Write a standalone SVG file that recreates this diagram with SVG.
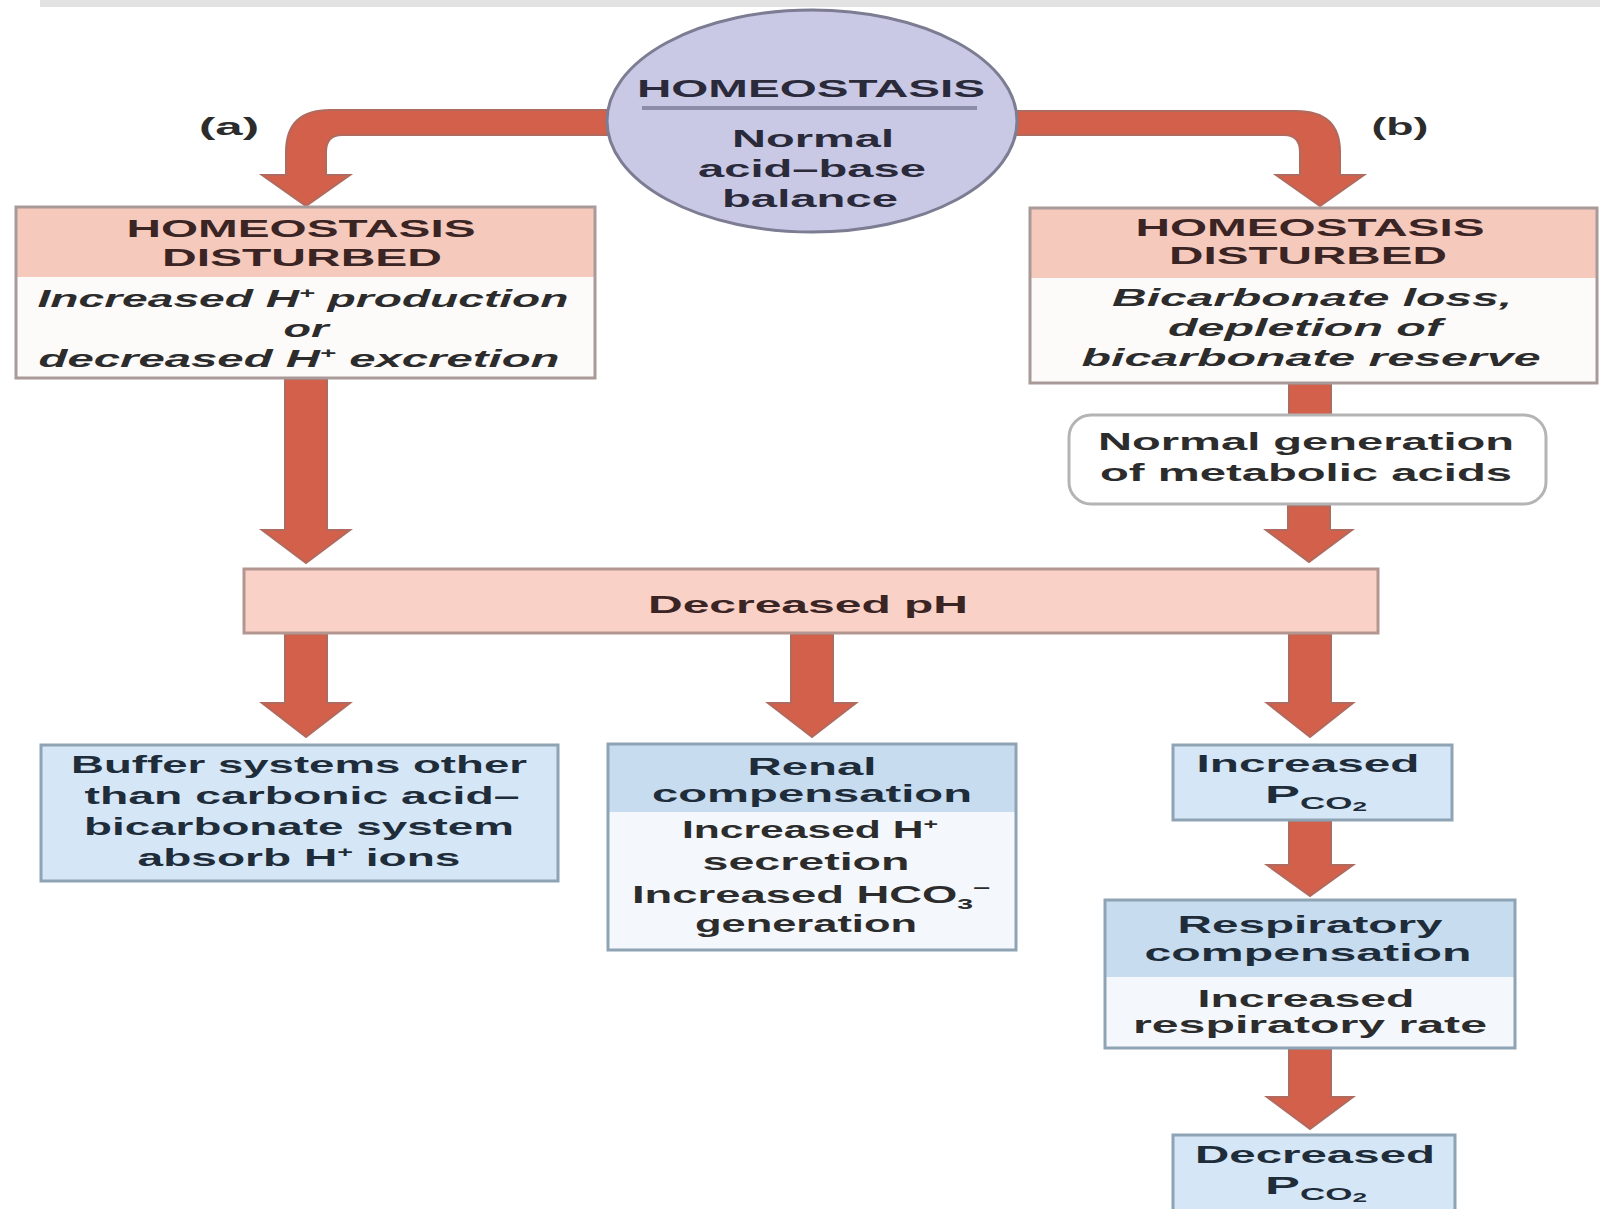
<svg xmlns="http://www.w3.org/2000/svg" width="1600" height="1209" viewBox="0 0 1600 1209">
<style>
text{font-family:"Liberation Sans",Arial,sans-serif;font-weight:bold;font-size:24px;text-anchor:middle}
.pk{fill:#3a2424}
.bl{fill:#1f2c3a}
.bd{fill:#2c2c2c}
.it{font-style:italic}
.arr{fill:#d2604b;stroke:#b06a5e;stroke-width:2;stroke-linejoin:miter}
.pinkhead{fill:#f6c9bd}
.boxline{fill:none;stroke:#a89a98;stroke-width:3}
.bluebox{fill:#d5e7f6;stroke:#8ea3b3;stroke-width:3}
.bluehead{fill:#c7dcef}
</style>
<rect x="40" y="0" width="1560" height="7" fill="#e2e2e2"/>
<g id="connectors">
<path class="arr" d="M612 110 L330 110 Q286 110 286 152 L286 175 L262 175 L306 206 L350 175 L326 175 L326 152 Q326 135 342 135 L612 135 Z"/>
<path class="arr" d="M1012 111 L1296 111 Q1340 111 1340 152 L1340 175 L1364 175 L1320 206 L1276 175 L1300 175 L1300 152 Q1300 135 1284 135 L1012 135 Z"/>
<path class="arr" d="M285 379 L327 379 L327 530 L350 530 L306 563 L262 530 L285 530 Z"/>
<path class="arr" d="M1289 384 L1331 384 L1331 416 L1289 416 Z"/>
<path class="arr" d="M1288 506 L1330 506 L1330 530 L1352 530 L1309 562 L1266 530 L1288 530 Z"/>
<path class="arr" d="M285 634 L327 634 L327 703 L350 703 L306 737 L262 703 L285 703 Z"/>
<path class="arr" d="M791 634 L833 634 L833 703 L856 703 L812 737 L768 703 L791 703 Z"/>
<path class="arr" d="M1289 634 L1331 634 L1331 703 L1353 703 L1310 737 L1267 703 L1289 703 Z"/>
<path class="arr" d="M1289 821 L1331 821 L1331 865 L1353 865 L1310 896 L1267 865 L1289 865 Z"/>
<path class="arr" d="M1289 1049 L1331 1049 L1331 1097 L1353 1097 L1310 1129 L1267 1097 L1289 1097 Z"/>
</g>
<g id="label-a"><text x="229" y="135" class="bd" textLength="60" lengthAdjust="spacingAndGlyphs">(a)</text></g>
<g id="label-b"><text x="1400" y="135" class="bd" textLength="57" lengthAdjust="spacingAndGlyphs">(b)</text></g>
<g id="homeostasis">
<ellipse cx="812" cy="121" rx="205" ry="111" fill="#c9c9e6" stroke="#7c7c92" stroke-width="3"/>
<text x="811" y="97" fill="#2a2a3a" font-size="26" textLength="348" lengthAdjust="spacingAndGlyphs">HOMEOSTASIS</text>
<rect x="642" y="106" width="335" height="4" fill="#8c8ca8"/>
<text x="813" y="147" fill="#2a2a3a" font-size="26" textLength="162" lengthAdjust="spacingAndGlyphs">Normal</text>
<text x="812" y="177" fill="#2a2a3a" font-size="26" textLength="228" lengthAdjust="spacingAndGlyphs">acid–base</text>
<text x="810" y="207" fill="#2a2a3a" font-size="26" textLength="176" lengthAdjust="spacingAndGlyphs">balance</text>
</g>
<g id="disturbed-a">
<rect x="16" y="207" width="579" height="171" fill="#fdfafa"/>
<rect x="16" y="207" width="579" height="70" class="pinkhead"/>
<rect x="16" y="207" width="579" height="171" class="boxline"/>
<text x="301" y="237" class="pk" textLength="349" lengthAdjust="spacingAndGlyphs">HOMEOSTASIS</text>
<text x="302" y="266" class="pk" textLength="280" lengthAdjust="spacingAndGlyphs">DISTURBED</text>
<text x="303" y="307" class="bd it" textLength="531" lengthAdjust="spacingAndGlyphs">Increased H<tspan font-size="14" dy="-9">+</tspan><tspan dy="9"> production</tspan></text>
<text x="306" y="337" class="bd it" textLength="45" lengthAdjust="spacingAndGlyphs">or</text>
<text x="299" y="367" class="bd it" textLength="521" lengthAdjust="spacingAndGlyphs">decreased H<tspan font-size="14" dy="-9">+</tspan><tspan dy="9"> excretion</tspan></text>
</g>
<g id="disturbed-b">
<rect x="1030" y="208" width="567" height="175" fill="#fdfafa"/>
<rect x="1030" y="208" width="567" height="70" class="pinkhead"/>
<rect x="1030" y="208" width="567" height="175" class="boxline"/>
<text x="1310" y="236" class="pk" textLength="349" lengthAdjust="spacingAndGlyphs">HOMEOSTASIS</text>
<text x="1308" y="264" class="pk" textLength="278" lengthAdjust="spacingAndGlyphs">DISTURBED</text>
<text x="1312" y="306" class="bd it" textLength="400" lengthAdjust="spacingAndGlyphs">Bicarbonate loss,</text>
<text x="1305" y="336" class="bd it" textLength="274" lengthAdjust="spacingAndGlyphs">depletion of</text>
<text x="1311" y="366" class="bd it" textLength="459" lengthAdjust="spacingAndGlyphs">bicarbonate reserve</text>
</g>
<g id="normal-generation">
<rect x="1069" y="415" width="477" height="89" rx="22" ry="22" fill="#ffffff" stroke="#b4b4b4" stroke-width="3"/>
<text x="1306" y="450" class="bd" textLength="416" lengthAdjust="spacingAndGlyphs">Normal generation</text>
<text x="1306" y="481" class="bd" textLength="412" lengthAdjust="spacingAndGlyphs">of metabolic acids</text>
</g>
<g id="decreased-ph">
<rect x="244" y="569" width="1134" height="64" fill="#f9d1c6" stroke="#b39690" stroke-width="3"/>
<text x="808" y="613" class="pk" textLength="320" lengthAdjust="spacingAndGlyphs">Decreased pH</text>
</g>
<g id="buffer">
<rect x="41" y="745" width="517" height="136" class="bluebox"/>
<text x="299" y="773" class="bl" textLength="456" lengthAdjust="spacingAndGlyphs">Buffer systems other</text>
<text x="302" y="804" class="bl" textLength="435" lengthAdjust="spacingAndGlyphs">than carbonic acid–</text>
<text x="299" y="835" class="bl" textLength="430" lengthAdjust="spacingAndGlyphs">bicarbonate system</text>
<text x="299" y="866" class="bl" textLength="323" lengthAdjust="spacingAndGlyphs">absorb H<tspan font-size="14" dy="-9">+</tspan><tspan dy="9"> ions</tspan></text>
</g>
<g id="renal">
<rect x="608" y="744" width="408" height="206" fill="#f4f8fc"/>
<rect x="608" y="744" width="408" height="68" class="bluehead"/>
<rect x="608" y="744" width="408" height="206" fill="none" stroke="#8ea3b3" stroke-width="3"/>
<text x="812" y="775" class="bl" textLength="129" lengthAdjust="spacingAndGlyphs">Renal</text>
<text x="812" y="802" class="bl" textLength="320" lengthAdjust="spacingAndGlyphs">compensation</text>
<text x="810" y="838" class="bd" textLength="256" lengthAdjust="spacingAndGlyphs">Increased H<tspan font-size="14" dy="-9">+</tspan></text>
<text x="806" y="870" class="bd" textLength="207" lengthAdjust="spacingAndGlyphs">secretion</text>
<text x="811" y="903" class="bd" textLength="358" lengthAdjust="spacingAndGlyphs">Increased HCO<tspan font-size="15" dy="6">3</tspan><tspan font-size="16" dy="-16">–</tspan></text>
<text x="806" y="932" class="bd" textLength="222" lengthAdjust="spacingAndGlyphs">generation</text>
</g>
<g id="increased-pco2">
<rect x="1173" y="745" width="279" height="75" class="bluebox"/>
<text x="1308" y="772" class="bl" textLength="223" lengthAdjust="spacingAndGlyphs">Increased</text>
<text x="1265" y="803" class="bl" style="text-anchor:start" textLength="102" lengthAdjust="spacingAndGlyphs">P<tspan font-size="16" dy="6">CO</tspan><tspan font-size="12" dy="2">2</tspan></text>
</g>
<g id="respiratory">
<rect x="1105" y="900" width="410" height="148" fill="#f4f8fc"/>
<rect x="1105" y="900" width="410" height="77" class="bluehead"/>
<rect x="1105" y="900" width="410" height="148" fill="none" stroke="#8ea3b3" stroke-width="3"/>
<text x="1310" y="933" class="bl" textLength="265" lengthAdjust="spacingAndGlyphs">Respiratory</text>
<text x="1308" y="961" class="bl" textLength="327" lengthAdjust="spacingAndGlyphs">compensation</text>
<text x="1306" y="1007" class="bd" textLength="217" lengthAdjust="spacingAndGlyphs">Increased</text>
<text x="1310" y="1033" class="bd" textLength="354" lengthAdjust="spacingAndGlyphs">respiratory rate</text>
</g>
<g id="decreased-pco2">
<rect x="1173" y="1135" width="282" height="80" class="bluebox"/>
<text x="1315" y="1163" class="bl" textLength="240" lengthAdjust="spacingAndGlyphs">Decreased</text>
<text x="1265" y="1194" class="bl" style="text-anchor:start" textLength="102" lengthAdjust="spacingAndGlyphs">P<tspan font-size="16" dy="6">CO</tspan><tspan font-size="12" dy="2">2</tspan></text>
</g>
</svg>
